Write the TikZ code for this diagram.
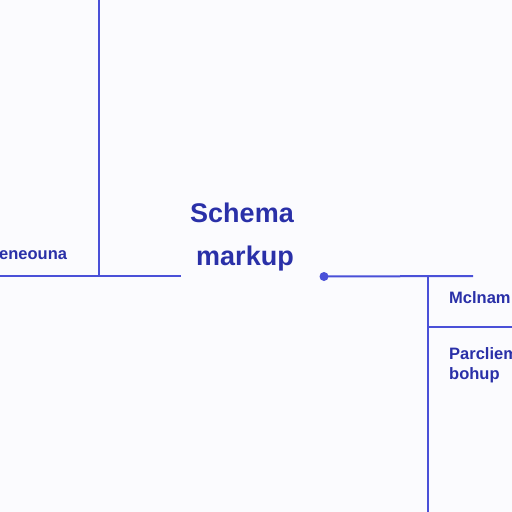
\documentclass[tikz,border=0pt]{standalone}
\usepackage{fontspec}
\setmainfont{Liberation Sans}
\definecolor{linec}{HTML}{4A50D8}
\definecolor{textc}{HTML}{2A30A8}
\definecolor{bgc}{HTML}{FBFBFE}
\begin{document}
\begin{tikzpicture}[x=1pt,y=-1pt,
  conn/.style={draw=linec,line width=2pt},
  lbl/.style={text=textc,font=\bfseries\fontsize{16.5}{19}\selectfont,inner sep=0pt,anchor=base west},
  title/.style={text=textc,font=\bfseries\fontsize{27}{31}\selectfont,inner sep=0pt,anchor=base}]
\fill[bgc] (0,0) rectangle (512,512);
\useasboundingbox (0,0) rectangle (512,512);
\clip (0,0) rectangle (512,512);
\coordinate (top) at (99,0);
\coordinate (corner) at (99,276);
\coordinate (leftend) at (0,276);
\coordinate (midend) at (181,276);
\coordinate (rightend) at (473,276);
\coordinate (branch) at (428,276);
\coordinate (bottom) at (428,512);
\coordinate (split) at (428,327);
\coordinate (splitend) at (512,327);
\node[circle,fill=linec,inner sep=0pt,minimum size=9pt] (dot) at (324,276.5) {};
\draw[conn] (top) -- (corner);
\draw[conn] (leftend) -- (midend);
\draw[conn] (dot.center) -- (rightend);
\draw[conn] (branch) -- (bottom);
\draw[conn] (split) -- (splitend);
\node[title] (t1) at (242,222) {Schema};
\node[title] (t2) at (245,265) {markup};
\node[lbl] (l1) at (-1,259) {eneouna};
\node[lbl] (r1) at (449,303) {Mclnam};
\node[lbl] (r2) at (449,359) {Parcliem};
\node[lbl] (r3) at (449,379) {bohup};
\end{tikzpicture}
\end{document}
